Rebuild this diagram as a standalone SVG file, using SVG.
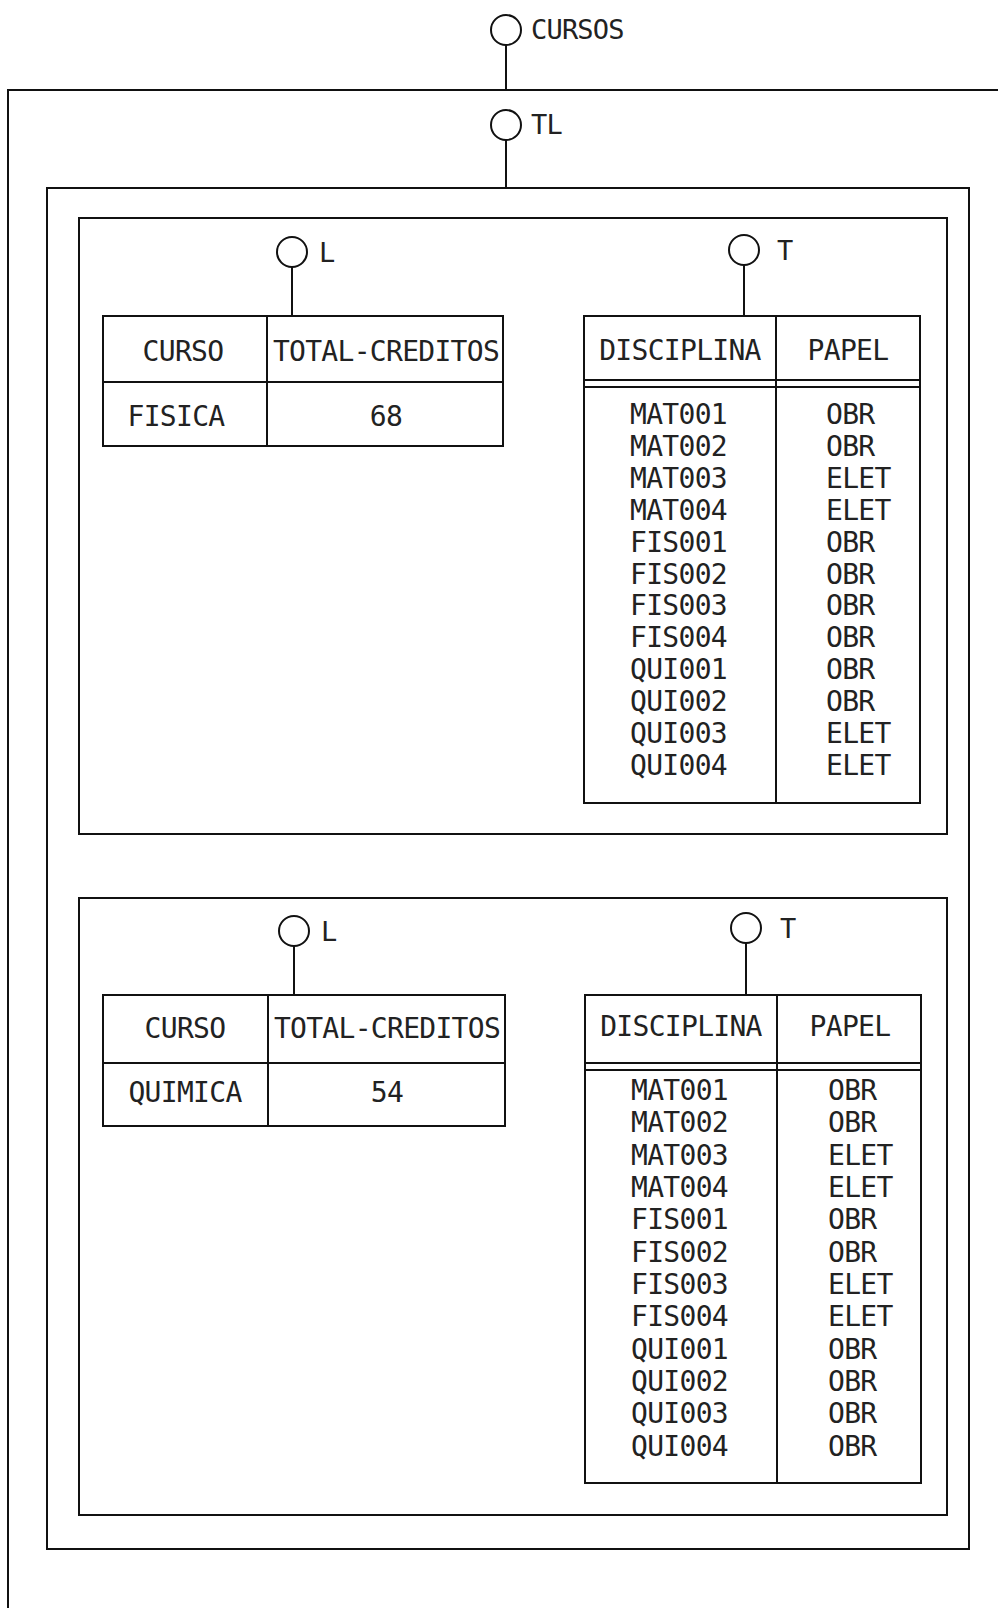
<svg xmlns="http://www.w3.org/2000/svg" width="998" height="1608" viewBox="0 0 998 1608">
<style>
.bx{fill:none;stroke:#111;stroke-width:2}
.ln{stroke:#111;stroke-width:2;fill:none}
.c{fill:#fff;stroke:#111;stroke-width:2}
.t{font-family:"DejaVu Sans Mono","Liberation Mono",monospace;font-size:28px;letter-spacing:-0.7px;fill:#222}
.m{text-anchor:middle}
.lb{font-family:"DejaVu Sans Mono","Liberation Mono",monospace;font-size:27px;letter-spacing:-0.8px;fill:#222}
</style>
<rect width="998" height="1608" fill="#fff"/>

<g id="connectors">
<line class="ln" x1="506" y1="45" x2="506" y2="90"/>
<line class="ln" x1="506" y1="140" x2="506" y2="188"/>
<line class="ln" x1="292" y1="267" x2="292" y2="316"/>
<line class="ln" x1="744" y1="265" x2="744" y2="316"/>
<line class="ln" x1="294" y1="946" x2="294" y2="995"/>
<line class="ln" x1="746" y1="943" x2="746" y2="995"/>
</g>

<g id="cursos">
<circle class="c" cx="506" cy="30" r="15"/>
<text class="lb" x="531" y="39">CURSOS</text>
</g>

<g id="outer-box">
<path class="ln" d="M998 90 H8 V1608"/>
</g>

<g id="tl">
<circle class="c" cx="506" cy="125" r="15"/>
<text class="lb" x="531" y="134">TL</text>
</g>

<g id="tl-box">
<rect class="bx" x="47" y="188" width="922" height="1361"/>
</g>

<g id="panel-fisica">
<rect class="bx" x="79" y="218" width="868" height="616"/>
</g>

<g id="l-fisica">
<circle class="c" cx="292" cy="252" r="15"/>
<text class="lb" x="319" y="262">L</text>
<rect class="bx" x="103" y="316" width="400" height="130"/>
<line class="ln" x1="103" y1="382" x2="503" y2="382"/>
<line class="ln" x1="267" y1="316" x2="267" y2="446"/>
<text class="t m" x="183" y="361">CURSO</text>
<text class="t m" x="386" y="361">TOTAL-CREDITOS</text>
<text class="t m" x="176" y="426">FISICA</text>
<text class="t m" x="386" y="426">68</text>
</g>

<g id="t-fisica">
<circle class="c" cx="744" cy="250" r="15"/>
<text class="lb" x="777" y="260">T</text>
<rect class="bx" x="584" y="316" width="336" height="487"/>
<line class="ln" x1="584" y1="380" x2="920" y2="380"/>
<line class="ln" x1="584" y1="387" x2="920" y2="387"/>
<line class="ln" x1="776" y1="316" x2="776" y2="803"/>
<text class="t m" x="680" y="360">DISCIPLINA</text>
<text class="t m" x="848" y="360">PAPEL</text>
<text class="t" x="630" y="424">MAT001</text><text class="t" x="826" y="424">OBR</text>
<text class="t" x="630" y="456">MAT002</text><text class="t" x="826" y="456">OBR</text>
<text class="t" x="630" y="488">MAT003</text><text class="t" x="826" y="488">ELET</text>
<text class="t" x="630" y="520">MAT004</text><text class="t" x="826" y="520">ELET</text>
<text class="t" x="630" y="552">FIS001</text><text class="t" x="826" y="552">OBR</text>
<text class="t" x="630" y="584">FIS002</text><text class="t" x="826" y="584">OBR</text>
<text class="t" x="630" y="615">FIS003</text><text class="t" x="826" y="615">OBR</text>
<text class="t" x="630" y="647">FIS004</text><text class="t" x="826" y="647">OBR</text>
<text class="t" x="630" y="679">QUI001</text><text class="t" x="826" y="679">OBR</text>
<text class="t" x="630" y="711">QUI002</text><text class="t" x="826" y="711">OBR</text>
<text class="t" x="630" y="743">QUI003</text><text class="t" x="826" y="743">ELET</text>
<text class="t" x="630" y="775">QUI004</text><text class="t" x="826" y="775">ELET</text>
</g>

<g id="panel-quimica">
<rect class="bx" x="79" y="898" width="868" height="617"/>
</g>

<g id="l-quimica">
<circle class="c" cx="294" cy="931" r="15"/>
<text class="lb" x="321" y="941">L</text>
<rect class="bx" x="103" y="995" width="402" height="131"/>
<line class="ln" x1="103" y1="1063" x2="505" y2="1063"/>
<line class="ln" x1="268" y1="995" x2="268" y2="1126"/>
<text class="t m" x="185" y="1038">CURSO</text>
<text class="t m" x="387" y="1038">TOTAL-CREDITOS</text>
<text class="t m" x="185" y="1102">QUIMICA</text>
<text class="t m" x="387" y="1102">54</text>
</g>

<g id="t-quimica">
<circle class="c" cx="746" cy="928" r="15"/>
<text class="lb" x="780" y="938">T</text>
<rect class="bx" x="585" y="995" width="336" height="488"/>
<line class="ln" x1="585" y1="1063" x2="921" y2="1063"/>
<line class="ln" x1="585" y1="1070" x2="921" y2="1070"/>
<line class="ln" x1="777" y1="995" x2="777" y2="1483"/>
<text class="t m" x="681" y="1036">DISCIPLINA</text>
<text class="t m" x="850" y="1036">PAPEL</text>
<text class="t" x="631" y="1100">MAT001</text><text class="t" x="828" y="1100">OBR</text>
<text class="t" x="631" y="1132">MAT002</text><text class="t" x="828" y="1132">OBR</text>
<text class="t" x="631" y="1165">MAT003</text><text class="t" x="828" y="1165">ELET</text>
<text class="t" x="631" y="1197">MAT004</text><text class="t" x="828" y="1197">ELET</text>
<text class="t" x="631" y="1229">FIS001</text><text class="t" x="828" y="1229">OBR</text>
<text class="t" x="631" y="1262">FIS002</text><text class="t" x="828" y="1262">OBR</text>
<text class="t" x="631" y="1294">FIS003</text><text class="t" x="828" y="1294">ELET</text>
<text class="t" x="631" y="1326">FIS004</text><text class="t" x="828" y="1326">ELET</text>
<text class="t" x="631" y="1359">QUI001</text><text class="t" x="828" y="1359">OBR</text>
<text class="t" x="631" y="1391">QUI002</text><text class="t" x="828" y="1391">OBR</text>
<text class="t" x="631" y="1423">QUI003</text><text class="t" x="828" y="1423">OBR</text>
<text class="t" x="631" y="1456">QUI004</text><text class="t" x="828" y="1456">OBR</text>
</g>
</svg>
